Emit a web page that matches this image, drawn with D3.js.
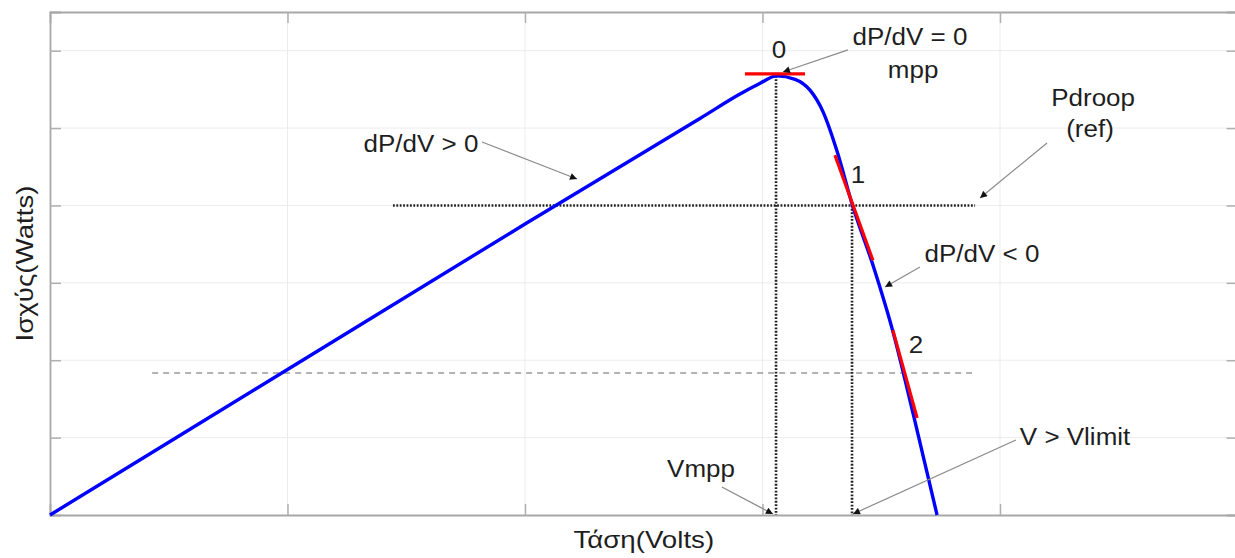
<!DOCTYPE html>
<html><head><meta charset="utf-8">
<script src="https://cdn.jsdelivr.net/npm/d3@7"></script>
<style>body{margin:0;background:#fff;overflow:hidden}svg{display:block}text{font-family:"Liberation Sans",Arial,sans-serif;fill:#1e1e1e}</style>
</head><body>
<svg id="c" width="1235" height="558"></svg>
<script>
// ---- data (V in volt-grid units, P in watt-grid units) ----
const voltage = [0, 1.0, 2.0, 2.74, 2.905, 2.99, 3.06, 3.137, 3.2, 3.255, 3.315, 3.377, 3.465, 3.55, 3.635, 3.735];
const power   = [0, 1.88, 3.76, 5.13, 5.44, 5.58, 5.675, 5.63, 5.49, 5.21, 4.69, 4.02, 3.23, 2.36, 1.30, 0];
const xTicks = [1, 2, 3, 4];
const yTicks = [1, 2, 3, 4, 5, 6];
const vmpp = 3.057, pmpp = 5.675;
const vlimit = 3.377, pdroop = 4.0;
const pLow = 1.835;
const tangents = [[[2.926, 5.7], [3.179, 5.7]], [[3.305, 4.65], [3.465, 3.29]], [[3.549, 2.39], [3.651, 1.253]]];
const labels = [
  {t: "0", v: 3.069, p: 5.906}, {t: "dP/dV = 0", v: 3.621, p: 6.074}, {t: "mpp", v: 3.634, p: 5.648},
  {t: "Pdroop", v: 4.392, p: 5.286}, {t: "(ref)", v: 4.379, p: 4.885}, {t: "1", v: 3.402, p: 4.29},
  {t: "dP/dV < 0", v: 3.924, p: 3.27}, {t: "2", v: 3.646, p: 2.094}, {t: "dP/dV > 0", v: 1.562, p: 4.691},
  {t: "V > Vlimit", v: 4.316, p: 0.905}, {t: "Vmpp", v: 2.741, p: 0.491}];
const arrows = [
  [[3.36, 6.01], [3.086, 5.725]], [[4.198, 4.807], [3.916, 4.097]], [[3.663, 3.205], [3.516, 2.947]],
  [[1.819, 4.82], [2.219, 4.342]], [[4.067, 0.969], [3.381, 0.013]], [[2.829, 0.362], [3.044, 0.013]]];

const svg = d3.select("#c");
const x = d3.scaleLinear().domain([0, 5]).range([50, 1237.5]);
const y = d3.scaleLinear().domain([0, 6.5]).range([515, 12]);
const SX = 1.13;

// grid
svg.append("g").selectAll("line").data(xTicks).join("line")
  .attr("x1", d => x(d)).attr("x2", d => x(d)).attr("y1", y(0)).attr("y2", y(6.5))
  .attr("stroke", "#ececec").attr("stroke-width", 1);
svg.append("g").selectAll("line").data(yTicks).join("line")
  .attr("y1", d => y(d)).attr("y2", d => y(d)).attr("x1", x(0)).attr("x2", x(5))
  .attr("stroke", "#ececec").attr("stroke-width", 1);

// axes (inward ticks)
const tickLen = 11;
svg.append("g").attr("transform", `translate(0,${y(0)})`)
  .call(d3.axisTop(x).tickValues(xTicks).tickSize(tickLen).tickFormat(""));
svg.append("g").attr("transform", `translate(0,${y(6.5)})`)
  .call(d3.axisBottom(x).tickValues(xTicks).tickSize(tickLen).tickFormat(""));
svg.append("g").attr("transform", `translate(${x(0)},0)`)
  .call(d3.axisRight(y).tickValues(yTicks).tickSize(tickLen).tickFormat(""));
svg.append("g").attr("transform", `translate(${x(5)},0)`)
  .call(d3.axisLeft(y).tickValues(yTicks).tickSize(tickLen).tickFormat(""));
svg.selectAll(".domain").attr("stroke", "#a8a8a8").attr("stroke-width", 1.8);
svg.selectAll(".tick line").attr("stroke", "#b0b0b0").attr("stroke-width", 1.5);

// reference lines
svg.append("line").attr("x1", x(0.43)).attr("x2", x(3.882)).attr("y1", y(pLow)).attr("y2", y(pLow))
  .attr("stroke", "#999").attr("stroke-width", 1.5).attr("stroke-dasharray", "6,5");
const dotted = {stroke: "#222", "stroke-width": 2.6, "stroke-dasharray": "1.8,1.6"};
function dot(sel){ for (const k in dotted) sel.attr(k, dotted[k]); return sel; }
dot(svg.append("line").attr("x1", x(1.444)).attr("x2", x(3.895)).attr("y1", y(pdroop)).attr("y2", y(pdroop)));
dot(svg.append("line").attr("x1", x(vmpp)).attr("x2", x(vmpp)).attr("y1", y(pmpp)).attr("y2", y(0)));
dot(svg.append("line").attr("x1", x(vlimit)).attr("x2", x(vlimit)).attr("y1", y(pdroop)).attr("y2", y(0)));

// PV curve
const pts = voltage.map((v, i) => [v, power[i]]);
svg.append("path").datum(pts)
  .attr("d", d3.line().x(d => x(d[0])).y(d => y(d[1])).curve(d3.curveMonotoneX))
  .attr("fill", "none").attr("stroke", "#0000ff").attr("stroke-width", 3.4);

// red tangents
svg.append("g").selectAll("line").data(tangents).join("line")
  .attr("x1", d => x(d[0][0])).attr("y1", d => y(d[0][1]))
  .attr("x2", d => x(d[1][0])).attr("y2", d => y(d[1][1]))
  .attr("stroke", "#ff0000").attr("stroke-width", 3.2);

// arrows
svg.append("defs").append("marker").attr("id", "ah").attr("viewBox", "0 0 10 10")
  .attr("refX", 10).attr("refY", 5).attr("markerWidth", 9).attr("markerHeight", 7)
  .attr("markerUnits", "userSpaceOnUse").attr("orient", "auto")
  .append("path").attr("d", "M0,0L10,5L0,10z").attr("fill", "#111");
svg.append("g").selectAll("line").data(arrows).join("line")
  .attr("x1", d => x(d[0][0])).attr("y1", d => y(d[0][1]))
  .attr("x2", d => x(d[1][0])).attr("y2", d => y(d[1][1]))
  .attr("stroke", "#8a8a8a").attr("stroke-width", 1.2).attr("marker-end", "url(#ah)");

// annotation text
svg.append("g").selectAll("text").data(labels).join("text")
  .attr("transform", d => `translate(${x(d.v)},${y(d.p)}) scale(${SX},1)`)
  .attr("text-anchor", "middle").attr("font-size", 23).text(d => d.t);

// axis titles
svg.append("text").attr("transform", `translate(${x(2.5)},548) scale(${SX},1)`)
  .attr("text-anchor", "middle").attr("font-size", 24.5).text("Τάση(Volts)");
svg.append("text").attr("transform", `translate(33,${y(3.25)}) rotate(-90) scale(${SX},1)`)
  .attr("text-anchor", "middle").attr("font-size", 24.5).text("Ισχύς(Watts)");
</script>
</body></html>
